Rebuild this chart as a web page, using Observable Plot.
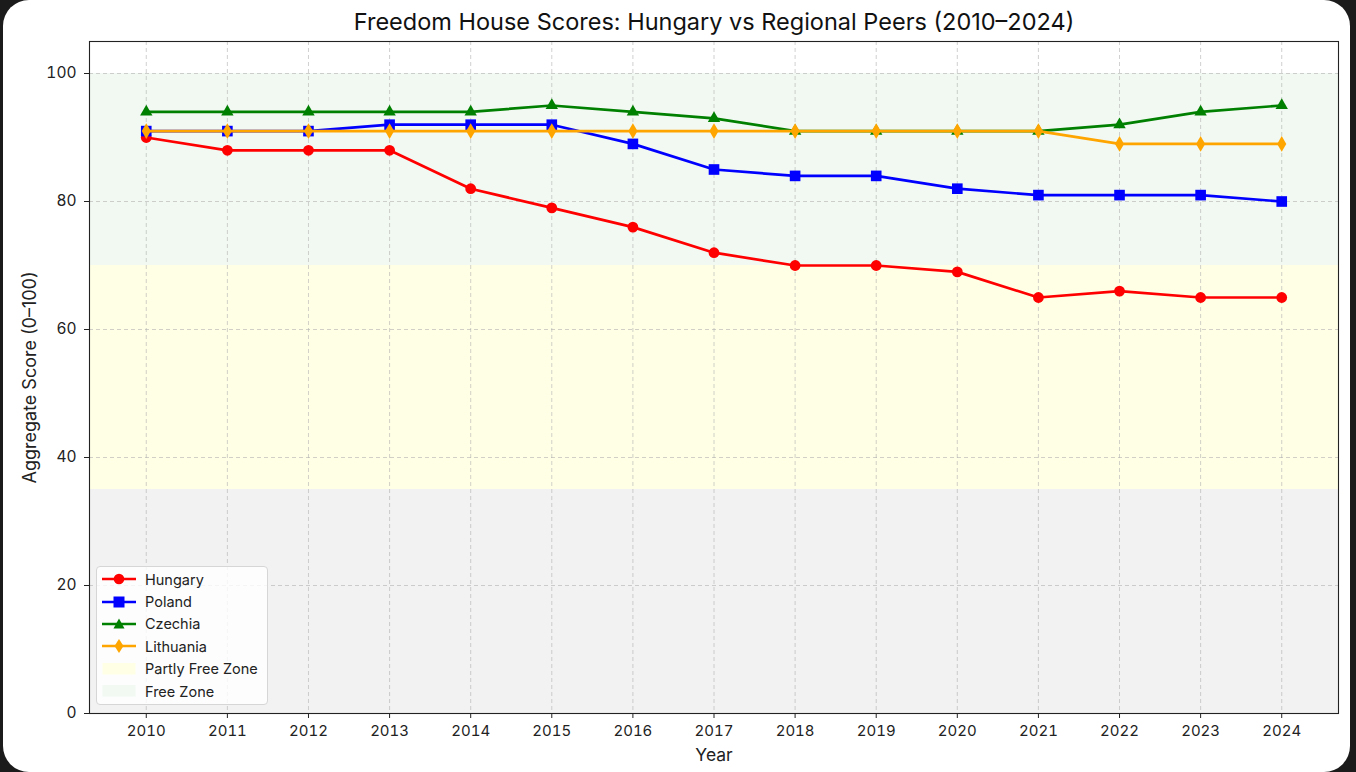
<!DOCTYPE html>
<html>
<head>
<meta charset="utf-8">
<script src="https://cdn.jsdelivr.net/npm/d3@7"></script>
<script src="https://cdn.jsdelivr.net/npm/@observablehq/plot@0.6"></script>
<style>
  html, body { margin: 0; padding: 0; background: #1b1b1b; width: 1356px; height: 772px; overflow: hidden; }
  #card { position: absolute; left: 3px; top: 0; width: 1347px; height: 772px; background: #fff; border-radius: 26px; }
  #wrap { position: absolute; left: 0; top: 0; width: 1356px; height: 772px; font-family: Inter, sans-serif; }
  #legend { position: absolute; left: 96px; top: 566px; width: 172px; height: 139px; background: rgba(255,255,255,0.8);
            border: 1px solid #d6d6d6; border-radius: 4px; box-sizing: border-box; padding-top: 1px; }
  .row { display: flex; align-items: center; height: 22.4px; font-size: 14.5px; color: #222; }
  .row svg { margin-left: 5px; margin-right: 9px; }
</style>
</head>
<body>
<div id="card"></div>
<div id="wrap"></div>
<script>
const years = [2010,2011,2012,2013,2014,2015,2016,2017,2018,2019,2020,2021,2022,2023,2024];
const countries = ["Hungary","Poland","Czechia","Lithuania"];
const hungary   = [90,88,88,88,82,79,76,72,70,70,69,65,66,65,65];
const poland    = [91,91,91,92,92,92,89,85,84,84,82,81,81,81,80];
const czechia   = [94,94,94,94,94,95,94,93,91,91,91,91,92,94,95];
const lithuania = [91,91,91,91,91,91,91,91,91,91,91,91,89,89,89];
const colors  = ["#ff0000","#0000ff","#008000","#ffa500"];
const symbols = ["circle","square","triangle","diamond"];
const yTicks = [0,20,40,60,80,100];
const bandLow = [0,35,70];
const bandHigh = [35,70,100];
const bandFill = ["#f2f2f2","#ffffe6","#f2f9f2"];
const legendZones = ["Partly Free Zone","Free Zone"];

const seriesValues = [hungary, poland, czechia, lithuania];
const data = countries.flatMap((c, i) => years.map((y, j) => ({country: c, year: y, score: seriesValues[i][j]})));
const bands = bandLow.map((lo, i) => ({y1: lo, y2: bandHigh[i], fill: bandFill[i]}));

const FONT = "Inter, sans-serif";
const symR = [5.4, 6, 4.6, 4.8];
const marks = [
  Plot.rect(bands, {y1: "y1", y2: "y2", fill: "fill"}),
  Plot.gridX(years, {stroke: "#b0b0b0", strokeOpacity: 0.6, strokeDasharray: "4,3", strokeWidth: 1}),
  Plot.gridY(yTicks, {stroke: "#b0b0b0", strokeOpacity: 0.6, strokeDasharray: "4,3", strokeWidth: 1}),
];
countries.forEach((c, i) => {
  const d = data.filter(r => r.country === c);
  marks.push(Plot.line(d, {x: "year", y: "score", stroke: colors[i], strokeWidth: 2.7}));
  marks.push(Plot.dot(d, {x: "year", y: "score", fill: colors[i], symbol: () => symbols[i], r: symR[i], stroke: "none"}));
});
marks.push(
  Plot.frame({stroke: "#222", strokeWidth: 1.1}),
  Plot.axisX({ticks: years, tickFormat: d => String(d), tickSize: 5, tickPadding: 7, fontSize: 15, label: null, stroke: "#222", color: "#222"}),
  Plot.axisY({ticks: yTicks, tickSize: 5, tickPadding: 8, fontSize: 15.5, label: null, color: "#222"}),
  Plot.text(["Freedom House Scores: Hungary vs Regional Peers (2010–2024)"], {frameAnchor: "top", textAnchor: "middle", dy: -19, fontSize: 23.5, fill: "#111", lineAnchor: "middle"}),
  Plot.text(["Year"], {frameAnchor: "bottom", textAnchor: "middle", dy: 42, fontSize: 17.5, fill: "#222", lineAnchor: "middle"}),
  Plot.text(["Aggregate Score (0–100)"], {frameAnchor: "left", textAnchor: "middle", dx: -59, rotate: -90, fontSize: 18, fill: "#222", lineAnchor: "middle"})
);

const chart = Plot.plot({
  width: 1356, height: 772,
  marginLeft: 89, marginRight: 18, marginTop: 41, marginBottom: 59,
  style: {background: "transparent", fontFamily: FONT},
  x: {type: "linear", domain: [2009.3, 2024.7]},
  y: {domain: [0, 105]},
  symbol: {domain: symbols, range: symbols},
  marks
});
const wrap = document.getElementById("wrap");
wrap.appendChild(chart);

// legend
const legend = document.createElement("div");
legend.id = "legend";
const sym = {
  circle: (c) => `<circle cx="17" cy="6" r="5.3" fill="${c}"/>`,
  square: (c) => `<rect x="11.5" y="0.5" width="11" height="11" fill="${c}"/>`,
  triangle: (c) => `<polygon points="17,0.5 22.5,10.5 11.5,10.5" fill="${c}"/>`,
  diamond: (c) => `<polygon points="17,-1 21.5,6 17,13 12.5,6" fill="${c}"/>`
};
countries.forEach((c, i) => {
  legend.insertAdjacentHTML("beforeend",
    `<div class="row"><svg width="34" height="12" overflow="visible"><line x1="0" x2="34" y1="6" y2="6" stroke="${colors[i]}" stroke-width="2.7"/>${sym[symbols[i]](colors[i])}</svg><span>${c}</span></div>`);
});
legendZones.forEach((z, i) => {
  legend.insertAdjacentHTML("beforeend",
    `<div class="row"><svg width="34" height="12"><rect x="1" y="0" width="32" height="11" fill="${bandFill[i+1]}" stroke="${bandFill[i+1]}"/></svg><span>${z}</span></div>`);
});
wrap.appendChild(legend);
</script>
</body>
</html>
